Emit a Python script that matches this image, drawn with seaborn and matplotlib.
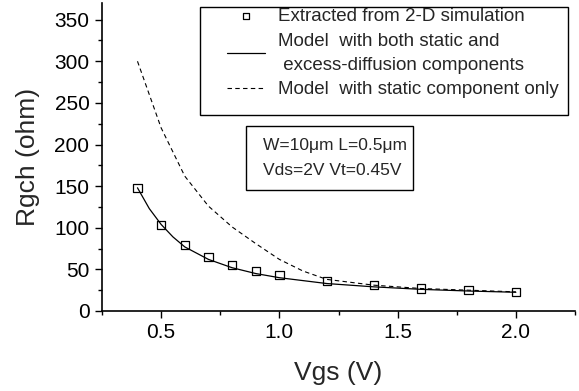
import matplotlib
matplotlib.use('Agg')
import matplotlib.pyplot as plt
import seaborn as sns
from matplotlib.patches import Rectangle
from matplotlib.ticker import MultipleLocator, FormatStrFormatter

# extracted points from 2-D simulation
vgs_sim = [0.4, 0.5, 0.6, 0.7, 0.8, 0.9, 1.0, 1.2, 1.4, 1.6, 1.8, 2.0]
rgch_sim = [148, 103, 79, 65, 55, 48, 43, 36, 31, 27, 25, 23]

# model with static + excess-diffusion components
vgs_full = [0.4, 0.45, 0.5, 0.55, 0.6, 0.7, 0.8, 0.9, 1.0, 1.2, 1.4, 1.6, 1.8, 2.0]
rgch_full = [148, 123, 104, 89, 77, 62, 52, 45, 40, 33, 29, 26, 24, 22.5]

# model with static component only
vgs_static = [0.4, 0.5, 0.6, 0.7, 0.8, 0.9, 1.0, 1.1, 1.2, 1.4, 1.6, 1.8, 2.0]
rgch_static = [300, 220, 162, 126, 101, 81, 62, 48, 38, 31, 27, 25, 23]

sns.set_style('ticks')
plt.rcParams['font.family'] = ['Liberation Sans', 'DejaVu Sans']

fig = plt.figure(figsize=(5.79, 3.91), dpi=100)
ax = fig.add_axes([102 / 579, 80 / 391, 473 / 579, 308 / 391])

sns.scatterplot(x=vgs_sim, y=rgch_sim, ax=ax, marker='s', s=36,
                facecolor='none', edgecolor='black', linewidth=0.9,
                label='Extracted from 2-D simulation', zorder=3)
sns.lineplot(x=vgs_full, y=rgch_full, ax=ax, color='black', linewidth=0.9,
             label='Model  with both static and\n excess-diffusion components')
sns.lineplot(x=vgs_static, y=rgch_static, ax=ax, color='black', linewidth=0.8,
             linestyle='--', label='Model  with static component only')
ax.lines[-1].set_dashes((4, 3))

ax.set_xlim(0.25, 2.25)
ax.set_ylim(0, 370)
ax.xaxis.set_major_locator(MultipleLocator(0.5))
ax.xaxis.set_minor_locator(MultipleLocator(0.25))
ax.yaxis.set_major_locator(MultipleLocator(50))
ax.yaxis.set_minor_locator(MultipleLocator(25))
ax.xaxis.set_major_formatter(FormatStrFormatter('%.1f'))
ax.tick_params(which='major', length=5, width=1, labelsize=15, color='black',
               labelcolor='black', pad=4)
ax.tick_params(which='minor', length=3, width=1, color='black')
for s in ['top', 'right']:
    ax.spines[s].set_visible(False)
for s in ['left', 'bottom']:
    ax.spines[s].set_linewidth(1.2)
    ax.spines[s].set_color('black')

ax.set_xlabel('Vgs (V)', fontsize=19, labelpad=13)
ax.set_ylabel('Rgch (ohm)', fontsize=19, labelpad=10)

leg = ax.legend(loc='upper left', bbox_to_anchor=(227 / 579, 1 - 8 / 391),
                bbox_transform=fig.transFigure, frameon=False, fontsize=13.5,
                borderpad=0, borderaxespad=0, handlelength=2.0,
                handletextpad=0.7, labelspacing=0.4, markerscale=0.75)
for t in leg.get_texts():
    t.set_linespacing(1.55)
fig.patches.append(Rectangle((200 / 579, 1 - 115 / 391), 368 / 579, 108 / 391,
                             transform=fig.transFigure, fill=False,
                             edgecolor='black', linewidth=1.0))

ax.text(263 / 579, 1 - 158 / 391, 'W=10μm L=0.5μm\nVds=2V Vt=0.45V',
        transform=fig.transFigure, fontsize=12.5, va='center', ha='left',
        linespacing=1.9)
fig.patches.append(Rectangle((246 / 579, 1 - 190 / 391), 167 / 579, 64 / 391,
                             transform=fig.transFigure, fill=False,
                             edgecolor='black', linewidth=1.0))

fig.savefig('out.png', dpi=100)
